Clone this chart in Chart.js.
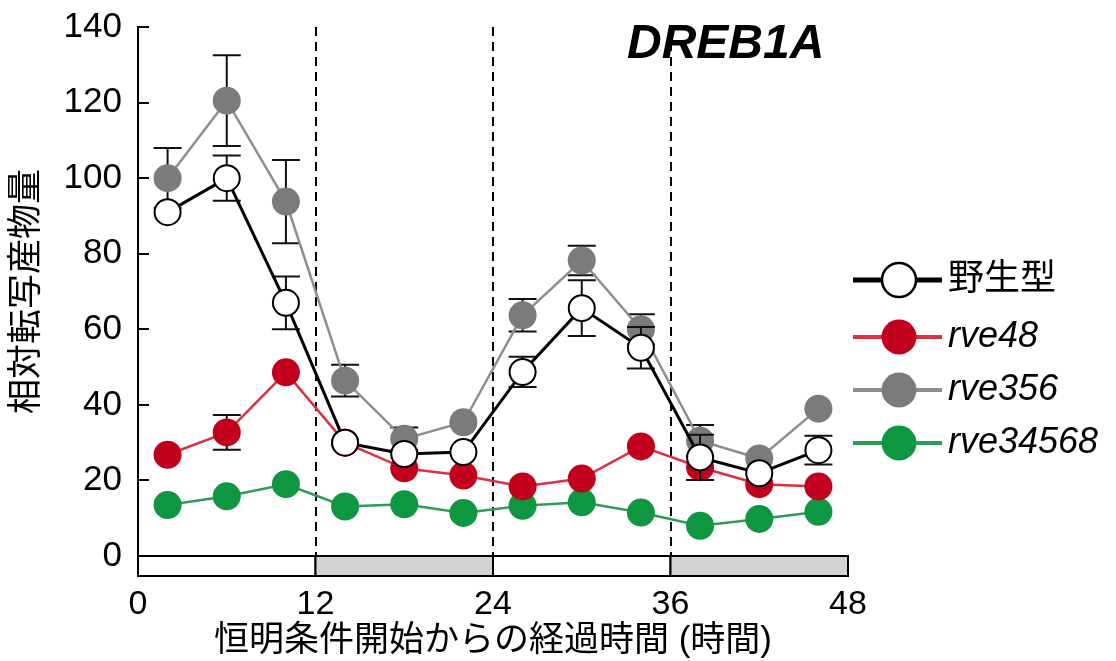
<!DOCTYPE html>
<html>
<head>
<meta charset="utf-8">
<script src="https://cdn.jsdelivr.net/npm/chart.js@4.4.1/dist/chart.umd.min.js"></script>
<style>
  html, body { margin: 0; padding: 0; background: #fff; }
</style>
</head>
<body>
<canvas id="dreb1aChart" width="1116" height="661"></canvas>
<script>
// time points (hours in constant light)
const hours = [2, 6, 10, 14, 18, 22, 26, 30, 34, 38, 42, 46];

const wildType    = [91, 100, 67, 30, 27, 27.5, 48.7, 65.6, 55.1, 26.1, 21.9, 28];
const wildTypeErr = [null, 6, 7, null, null, null, 4, 7.4, 5.5, 6, null, 3.8];

const rve48    = [26.8, 32.7, 48.6, 30, 23.2, 21.3, 18.4, 20.5, 29, 23.5, 19, 18.4];
const rve48Err = [null, 4.6, null, null, null, null, null, null, null, null, null, null];

const rve356    = [100, 120.5, 93.8, 46.4, 31, 35.4, 63.7, 78.2, 60, 30.5, 25.8, 39];
const rve356Err = [8, 12, 11, 4.2, 3, null, 4.3, 3.9, 4, 4.2, null, null];

const rve34568 = [13.5, 15.8, 19, 13.1, 13.7, 11.4, 13.3, 14.2, 11.5, 8, 9.8, 11.7];

// subjective day / night bar under the axis
const periodEdges = [0, 12, 24, 36, 48];
const periodTypes = ['light', 'dark', 'light', 'dark'];
const boundaryHours = [12, 24, 36];

const FONT = '"Liberation Sans", "Noto Sans CJK JP", Arial, sans-serif';

function toPoints(values) {
  return hours.map((h, i) => ({ x: h, y: values[i] }));
}

const dashedBoundaries = {
  id: 'dashedBoundaries',
  beforeDatasetsDraw(chart) {
    const { ctx, chartArea, scales: { x } } = chart;
    ctx.save();
    ctx.strokeStyle = '#000';
    ctx.lineWidth = 2;
    ctx.setLineDash([9, 6]);
    boundaryHours.forEach(function (h) {
      const px = Math.round(x.getPixelForValue(h));
      ctx.beginPath();
      ctx.moveTo(px, chartArea.top);
      ctx.lineTo(px, chartArea.bottom);
      ctx.stroke();
    });
    ctx.restore();
  }
};

const errorBars = {
  id: 'errorBars',
  beforeDatasetDraw(chart, args) {
    const ds = chart.data.datasets[args.index];
    if (!ds.errors) return;
    const { ctx, scales: { y } } = chart;
    ctx.save();
    ctx.strokeStyle = '#111';
    ctx.lineWidth = 2;
    args.meta.data.forEach(function (pt, i) {
      const e = ds.errors[i];
      if (e == null) return;
      const v = ds.data[i].y;
      const top = y.getPixelForValue(v + e);
      const bot = y.getPixelForValue(v - e);
      ctx.beginPath();
      ctx.moveTo(pt.x, top); ctx.lineTo(pt.x, bot);
      ctx.moveTo(pt.x - 14, top); ctx.lineTo(pt.x + 14, top);
      ctx.moveTo(pt.x - 14, bot); ctx.lineTo(pt.x + 14, bot);
      ctx.stroke();
    });
    ctx.restore();
  }
};

const decorations = {
  id: 'decorations',
  afterDraw(chart) {
    const { ctx, chartArea, scales: { x, y } } = chart;
    ctx.save();

    // inward y ticks
    ctx.strokeStyle = '#000';
    ctx.lineWidth = 2;
    y.ticks.forEach(function (t) {
      const py = Math.round(y.getPixelForValue(t.value));
      ctx.beginPath();
      ctx.moveTo(chartArea.left, py);
      ctx.lineTo(chartArea.left + 11, py);
      ctx.stroke();
    });

    // light/dark bar
    const barTop = y.getPixelForValue(0);
    const barH = 20;
    periodTypes.forEach(function (type, i) {
      const x0 = x.getPixelForValue(periodEdges[i]);
      const x1 = x.getPixelForValue(periodEdges[i + 1]);
      ctx.fillStyle = type === 'dark' ? '#d3d3d3' : '#fff';
      ctx.fillRect(x0, barTop, x1 - x0, barH);
      ctx.strokeRect(x0, barTop, x1 - x0, barH);
    });

    // gene name
    ctx.fillStyle = '#000';
    ctx.font = 'italic bold 48px ' + FONT;
    ctx.textBaseline = 'alphabetic';
    ctx.textAlign = 'left';
    ctx.fillText('DREB1A', 627, 58);

    // legend
    const rowY = [280, 337, 390, 443];
    ctx.textBaseline = 'middle';
    chart.data.datasets.forEach(function (ds, i) {
      const yy = rowY[i];
      ctx.strokeStyle = ds.borderColor;
      ctx.lineWidth = ds.pointBorderWidth ? 5 : 4;
      ctx.beginPath();
      ctx.moveTo(853, yy);
      ctx.lineTo(942, yy);
      ctx.stroke();
      ctx.beginPath();
      ctx.arc(899, yy, ds.pointBorderWidth ? 17 : 17.5, 0, Math.PI * 2);
      ctx.fillStyle = ds.pointBackgroundColor;
      ctx.fill();
      if (ds.pointBorderWidth) {
        ctx.lineWidth = 2.5;
        ctx.strokeStyle = ds.pointBorderColor;
        ctx.stroke();
      }
      ctx.fillStyle = '#000';
      ctx.font = (ds.italic ? 'italic ' : '') + '36px ' + FONT;
      ctx.fillText(ds.label, 948, yy);
    });
    ctx.restore();
  }
};

const ctx = document.getElementById('dreb1aChart').getContext('2d');
const dreb1aChart = new Chart(ctx, {
  type: 'line',
  data: {
    datasets: [{
      label: '野生型',
      data: toPoints(wildType),
      errors: wildTypeErr,
      borderColor: '#000',
      borderWidth: 3,
      pointRadius: 13,
      pointBorderWidth: 2,
      pointBackgroundColor: '#fff',
      pointBorderColor: '#000',
      italic: false
    }, {
      label: 'rve48',
      data: toPoints(rve48),
      errors: rve48Err,
      borderColor: '#dc3142',
      borderWidth: 2.5,
      pointRadius: 14,
      pointBorderWidth: 0,
      pointBackgroundColor: '#c2001e',
      pointBorderColor: '#c2001e',
      italic: true
    }, {
      label: 'rve356',
      data: toPoints(rve356),
      errors: rve356Err,
      borderColor: '#8e8e8e',
      borderWidth: 2.5,
      pointRadius: 14,
      pointBorderWidth: 0,
      pointBackgroundColor: '#7b7b7b',
      pointBorderColor: '#7b7b7b',
      italic: true
    }, {
      label: 'rve34568',
      data: toPoints(rve34568),
      borderColor: '#2e9c55',
      borderWidth: 2.5,
      pointRadius: 14,
      pointBorderWidth: 0,
      pointBackgroundColor: '#0f9640',
      pointBorderColor: '#0f9640',
      italic: true
    }]
  },
  options: {
    responsive: false,
    animation: false,
    layout: { padding: { top: 27, right: 268, left: 0, bottom: 0 } },
    plugins: {
      legend: { display: false },
      tooltip: { enabled: false },
      title: { display: false }
    },
    scales: {
      x: {
        type: 'linear',
        min: 0,
        max: 48,
        ticks: { stepSize: 12, padding: 28, color: '#000', font: { family: FONT, size: 34 } },
        grid: { display: false, drawTicks: false },
        border: { display: true, color: '#000', width: 2 },
        title: {
          display: true,
          text: '恒明条件開始からの経過時間 (時間)',
          color: '#000',
          font: { family: FONT, size: 35, lineHeight: 1.1 },
          padding: { top: 0, bottom: 0 }
        },
        afterFit: function (scale) { scale.height = 105; }
      },
      y: {
        min: 0,
        max: 140,
        ticks: { stepSize: 20, padding: 16, color: '#000', font: { family: FONT, size: 35 } },
        grid: { display: false, drawTicks: false },
        border: { display: true, color: '#000', width: 2 },
        title: {
          display: true,
          text: '相対転写産物量',
          color: '#000',
          font: { family: FONT, size: 35 },
          padding: { top: 6, bottom: 0 }
        },
        afterFit: function (scale) {
          scale.width = 138;
          scale.paddingTop = 0;
          scale.paddingBottom = 0;
        }
      }
    }
  },
  plugins: [dashedBoundaries, errorBars, decorations]
});
</script>
</body>
</html>
